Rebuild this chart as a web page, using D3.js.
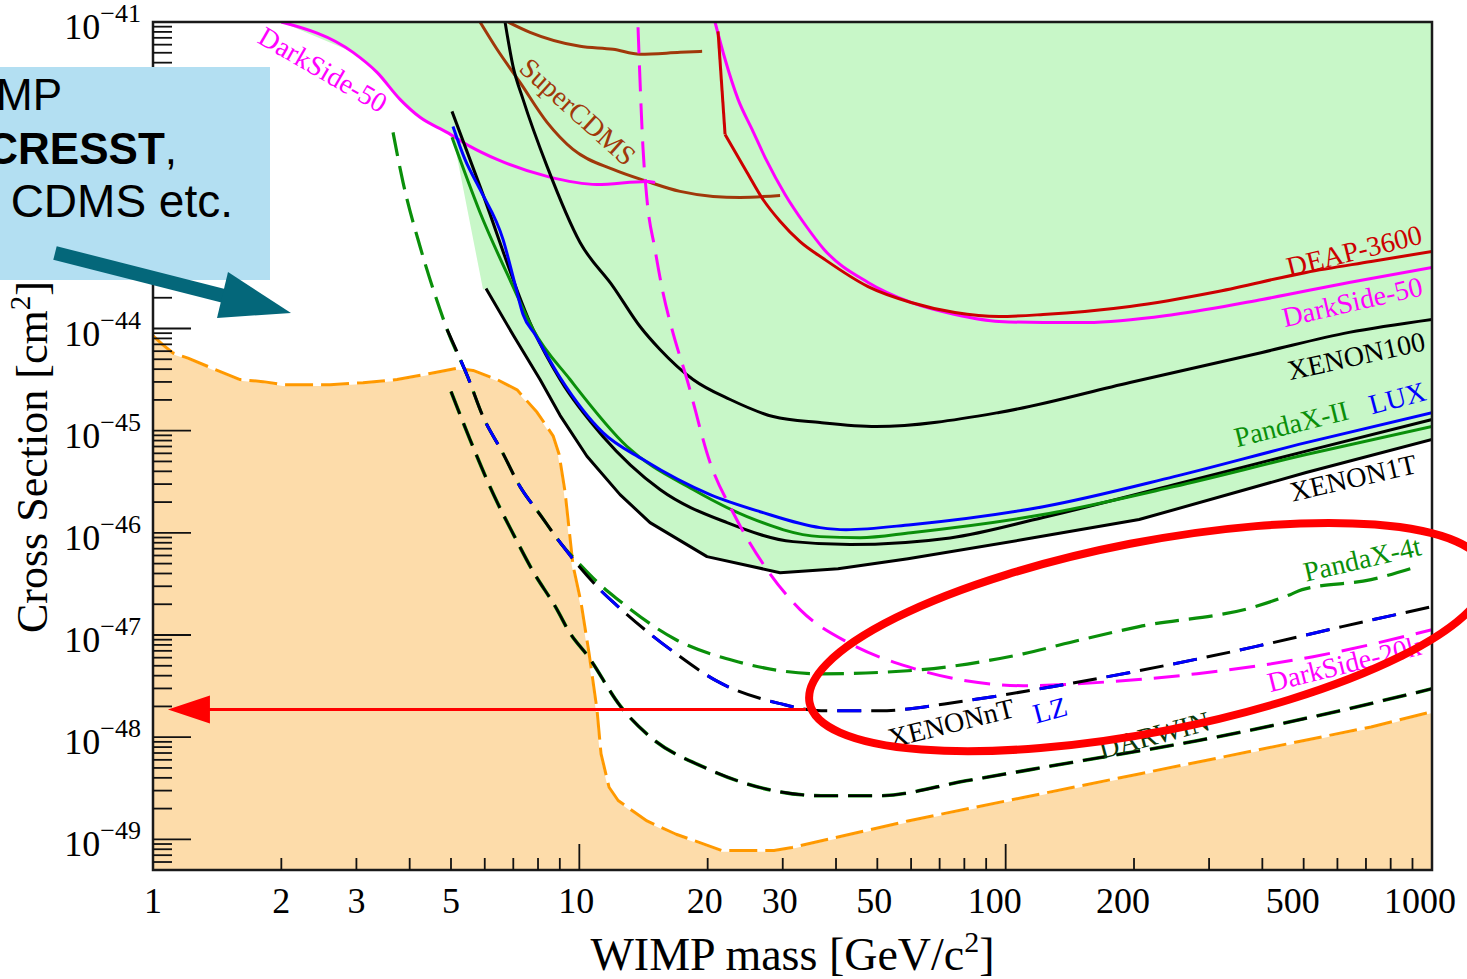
<!DOCTYPE html>
<html><head><meta charset="utf-8">
<script src="https://cdn.jsdelivr.net/npm/d3@7/dist/d3.min.js"></script>
<style>
body{margin:0;background:#fff}
svg{display:block}
text.serif{font-family:"Liberation Serif","Times New Roman",serif}
text.sans{font-family:"Liberation Sans",Arial,sans-serif}
</style>
</head><body>
<svg id="chart" width="1467" height="979"></svg>
<script>
// ---------------- DATA (mass in GeV/c^2, cross section given as log10(sigma / cm^2)) ----------------
const xTickLabels = [1, 2, 3, 5, 10, 20, 30, 50, 100, 200, 500, 1000];
const yDecades = [-41, -42, -43, -44, -45, -46, -47, -48, -49];

const neutrinoFloor = [[1.0,-44.07],[1.011,-44.09],[1.055,-44.16],[1.114,-44.24],[1.208,-44.29],[1.36,-44.38],[1.6,-44.5],[1.811,-44.52],[2.018,-44.55],[2.602,-44.55],[3.109,-44.53],[3.737,-44.5],[4.465,-44.44],[5.166,-44.39],[5.633,-44.41],[6.412,-44.5],[7.144,-44.6],[7.958,-44.82],[8.678,-45.05],[8.963,-45.23],[9.258,-45.6],[9.459,-45.96],[9.665,-46.32],[10.09,-46.68],[10.54,-47.18],[11.0,-47.73],[11.24,-48.16],[11.74,-48.49],[12.33,-48.62],[14.41,-48.82],[16.86,-48.95],[21.61,-49.11],[28.62,-49.11],[31.55,-49.08],[59.0,-48.82],[109.9,-48.59],[205.6,-48.36],[384.6,-48.13],[719.6,-47.9],[1000,-47.75]];

const darkSide50Low = [[2.0,-41.0],[2.946,-41.297],[3.354,-41.493],[3.797,-41.757],[4.23,-41.933],[4.894,-42.08],[5.541,-42.217],[6.411,-42.345],[8.401,-42.511],[11.0,-42.59],[14.41,-42.56],[15.05,-42.57]];
const darkSide50High = [[20.81,-41.0],[21.97,-41.365],[23.57,-41.757],[25.42,-42.051],[27.41,-42.345],[30.38,-42.688],[33.83,-42.982],[37.5,-43.226],[47.56,-43.549],[59.99,-43.745],[76.07,-43.863],[96.5,-43.931],[122.4,-43.941],[155.2,-43.941],[248.3,-43.863],[399.5,-43.716],[639.0,-43.549],[1000,-43.402]];
const deap3600Rise = [[21.15,-41.091],[21.97,-42.1]];
const deap3600 = [[21.97,-42.1],[24.74,-42.472],[26.97,-42.737],[29.57,-42.95],[32.94,-43.15],[37.5,-43.32],[47.56,-43.59],[59.99,-43.745],[76.07,-43.843],[96.5,-43.882],[122.4,-43.863],[195.7,-43.784],[314.9,-43.637],[506.7,-43.451],[719.7,-43.344],[1000,-43.246]];
const xenon100 = [[6.695,-41.0],[6.99,-41.434],[7.379,-41.757],[8.401,-42.413],[10.04,-43.158],[12.0,-43.589],[13.88,-43.98],[15.46,-44.205],[18.48,-44.499],[22.58,-44.695],[28.48,-44.862],[36.7,-44.921],[49.66,-44.96],[96.5,-44.822],[195.7,-44.528],[399.5,-44.234],[639.0,-44.038],[1000,-43.911]];
const superCDMSa = [[6.804,-41.0],[7.662,-41.101],[10.04,-41.238],[12.0,-41.267],[13.88,-41.316],[17.23,-41.297],[19.41,-41.287]];
const superCDMSb = [[5.849,-41.0],[6.411,-41.267],[7.259,-41.591],[8.401,-41.982],[9.665,-42.247],[12.0,-42.443],[14.41,-42.56],[17.23,-42.658],[20.59,-42.707],[23.82,-42.717],[29.57,-42.697]];
const lux = [[5.054,-42.022],[5.393,-42.345],[5.849,-42.639],[6.622,-43.128],[7.067,-43.569],[7.379,-43.863],[7.872,-44.059],[9.011,-44.48],[11.36,-45.019],[14.11,-45.283],[20.26,-45.626],[26.54,-45.793],[36.7,-45.949],[42.23,-45.969],[59.99,-45.92],[122.4,-45.744],[248.3,-45.45],[506.7,-45.117],[1000,-44.823]];
const pandaX2 = [[5.027,-42.129],[5.849,-42.864],[6.99,-43.589],[7.788,-44.009],[9.511,-44.499],[12.94,-45.155],[18.48,-45.576],[24.74,-45.841],[36.7,-46.037],[45.55,-46.047],[59.99,-45.998],[122.4,-45.821],[248.3,-45.547],[506.7,-45.234],[1000,-44.96]];
const xenon1T2017 = [[5.027,-41.875],[5.849,-42.609],[7.788,-44.009],[9.011,-44.499],[11.36,-45.057],[15.46,-45.576],[22.21,-45.9],[31.72,-46.086],[43.15,-46.115],[74.06,-46.05],[122.4,-45.85],[248.3,-45.53],[506.7,-45.2],[1000,-44.891]];
const xenon1T = [[6.041,-43.608],[7.029,-44.079],[8.088,-44.499],[9.011,-44.85],[10.42,-45.25],[12.46,-45.626],[14.65,-45.9],[19.93,-46.233],[29.57,-46.39],[40.45,-46.351],[59.0,-46.253],[109.9,-46.066],[205.6,-45.87],[506.7,-45.41],[1000,-45.087]];
const excludedEdge = [[2.0,-41.0],[2.946,-41.297],[3.354,-41.493],[3.797,-41.757],[4.23,-41.933],[4.894,-42.08],[5.054,-42.118],[5.944,-43.618],[6.041,-43.608],[7.029,-44.079],[8.088,-44.499],[9.011,-44.85],[10.42,-45.25],[12.46,-45.626],[14.65,-45.9],[19.93,-46.233],[29.57,-46.39],[40.45,-46.351],[59.0,-46.253],[109.9,-46.066],[205.6,-45.87],[506.7,-45.41],[1000,-45.087],[1000,-41.0]];
const darkSide20k = [[13.73,-41.052],[14.11,-42.247],[14.41,-42.737],[15.05,-43.226],[15.71,-43.647],[16.5,-44.009],[17.89,-44.499],[20.26,-45.312],[22.94,-45.801],[27.56,-46.36],[32.94,-46.751],[43.15,-47.084],[59.0,-47.31],[80.7,-47.447],[109.9,-47.496],[175.8,-47.457],[281.2,-47.379],[526.1,-47.212],[1000,-46.948]];
const pandaX4t = [[3.656,-42.08],[3.859,-42.57],[4.23,-43.197],[4.712,-43.814],[4.894,-44.009],[5.482,-44.48],[5.944,-44.862],[6.587,-45.205],[7.259,-45.547],[8.088,-45.821],[9.059,-46.106],[10.04,-46.311],[11.18,-46.507],[12.33,-46.654],[16.86,-47.046],[23.07,-47.252],[36.9,-47.38],[59.0,-47.35],[109.9,-47.184],[150.3,-47.046],[205.6,-46.918],[384.6,-46.722],[464.7,-46.605],[495.9,-46.556],[719.6,-46.458],[922.8,-46.331]];
const xenonNT = [[4.894,-44.009],[5.482,-44.48],[5.944,-44.862],[6.587,-45.205],[7.259,-45.547],[8.088,-45.821],[9.059,-46.106],[10.04,-46.34],[11.18,-46.556],[12.33,-46.722],[16.86,-47.183],[20.93,-47.447],[29.57,-47.672],[36.9,-47.741],[50.47,-47.741],[80.7,-47.643],[128.5,-47.506],[205.6,-47.349],[384.6,-47.114],[615.4,-46.918],[1000,-46.722]];
const lzProjection = [[4.894,-44.009],[5.482,-44.48],[5.944,-44.862],[6.587,-45.205],[7.259,-45.547],[8.088,-45.821],[9.059,-46.106],[10.04,-46.34],[11.18,-46.556],[12.33,-46.722],[16.86,-47.183],[20.93,-47.447],[29.57,-47.672],[36.9,-47.741],[50.47,-47.741],[80.7,-47.643],[128.5,-47.506],[205.6,-47.349],[384.6,-47.114],[615.4,-46.918],[1000,-46.722]];
const darwin = [[5.001,-44.617],[5.541,-45.087],[6.307,-45.635],[7.029,-46.027],[7.746,-46.36],[8.867,-46.752],[9.459,-46.967],[10.54,-47.222],[12.46,-47.692],[14.65,-47.996],[19.72,-48.299],[28.62,-48.524],[36.9,-48.573],[50.47,-48.573],[80.7,-48.427],[150.3,-48.231],[281.2,-48.035],[526.1,-47.8],[1000,-47.526]];

// curve labels: [text, mass, log10 sigma, angle, colour]
const curveLabels = [
  ["DarkSide-50", 2.506, -41.463, 30, "#ff00ff"],
  ["SuperCDMS", 9.93, -41.875, 42, "#a0380a"],
  ["DEAP-3600", 656.7, -43.236, -14, "#cc0000"],
  ["DarkSide-50", 649.6, -43.736, -13, "#ff00ff"],
  ["XENON100", 663.7, -44.265, -12.5, "#000000"],
  ["PandaX-II", 467.2, -44.931, -14, "#0a8f0a"],
  ["LUX", 828.3, -44.677, -15, "#0000ff"],
  ["XENON1T", 653.1, -45.459, -13, "#000000"],
  ["PandaX-4t", 685.5, -46.253, -13, "#0a8f0a"],
  ["DarkSide-20k", 622.1, -47.281, -14, "#ff00ff"],
  ["XENONnT", 74.45, -47.859, -14, "#000000"],
  ["LZ", 127.1, -47.732, -15, "#0000ff"],
  ["DARWIN", 222.9, -47.977, -15, "#0a3a0a"]
];
// annotation anchors (mass, log10 sigma)
const ellipseCentre = [216, -47.02];
const arrowFrom = [34, -47.73];
const arrowTo = [1.084, -47.73];

// ---------------- DRAWING ----------------
const svg = d3.select("#chart");
const L = 153, R = 1432, T = 22, B = 870;
const x = d3.scaleLog().domain([1, 1000]).range([L, R]);
const y = d3.scaleLog().domain([Math.pow(10, -49.3), 1e-41]).range([B, T]);
const P = e => Math.pow(10, e);
const line = d3.line().x(d => x(d[0])).y(d => y(P(d[1])));
const smooth = d3.line().x(d => x(d[0])).y(d => y(P(d[1]))).curve(d3.curveMonotoneX);

svg.append("defs").append("clipPath").attr("id", "plotclip")
  .append("rect").attr("x", L).attr("y", T).attr("width", R - L).attr("height", B - T);

const plot = svg.append("g").attr("clip-path", "url(#plotclip)");

// excluded (green) region
plot.append("path").attr("d", line(excludedEdge) + "Z").attr("fill", "#c8f7c8").attr("stroke", "none");

// neutrino floor region
const floorArea = d3.area().x(d => x(d[0])).y0(B + 2).y1(d => y(P(d[1])));
plot.append("path").attr("d", floorArea(neutrinoFloor)).attr("fill", "#fddcaa");

function draw(data, color, width, dash, gen, offset) {
  const p = plot.append("path").attr("d", (gen || smooth)(data)).attr("fill", "none")
    .attr("stroke", color).attr("stroke-width", width).attr("stroke-linejoin", "round");
  if (dash) p.attr("stroke-dasharray", dash);
  if (offset) p.attr("stroke-dashoffset", offset);
  return p;
}

// solid limits
draw(superCDMSa, "#a0380a", 3);
draw(superCDMSb, "#a0380a", 3);
draw(darkSide50Low, "#ff00ff", 3);
draw(xenon100, "#000", 3);
draw(xenon1T, "#000", 3, null, line);
draw(xenon1T2017, "#000", 3);
draw(pandaX2, "#0a8f0a", 3);
draw(lux, "#0000ff", 3);
draw(darkSide50High, "#ff00ff", 3);
draw(deap3600Rise, "#cc0000", 3, null, line);
draw(deap3600, "#cc0000", 3);

// projections (dashed)
draw(neutrinoFloor, "#ffffff", 2.5, null, line);
draw(neutrinoFloor, "#ff9900", 3, "28,8", line);
draw(darkSide20k, "#ff00ff", 3, "26,12");
draw(pandaX4t, "#0a8f0a", 3.2, "24,10");
draw(xenonNT, "#000", 3, "24,10");
draw(lzProjection, "#0000ff", 3, "24,44", null, -34);
draw(darwin, "#0a8f0a", 3.6, "24,10");
draw(darwin, "#000", 2.6, "24,10");

// frame
svg.append("rect").attr("x", L).attr("y", T).attr("width", R - L).attr("height", B - T)
  .attr("fill", "none").attr("stroke", "#1a1a1a").attr("stroke-width", 2.5);

// x ticks
const axisG = svg.append("g").attr("stroke", "#111").attr("stroke-width", 1.8);
for (let dec = 1; dec < 1000; dec *= 10) {
  for (let k = 1; k <= 9; k++) {
    const v = dec * k;
    if (v <= 1 || v >= 1000) continue;
    const len = k === 1 ? 26 : 12;
    axisG.append("line").attr("x1", x(v)).attr("x2", x(v)).attr("y1", B).attr("y2", B - len);
  }
}
// y ticks
for (let e = -50; e <= -41; e++) {
  for (let k = 1; k <= 9; k++) {
    const v = k * Math.pow(10, e);
    const ly = Math.log10(v);
    if (ly < -49.3 || ly > -41.001) continue;
    const len = k === 1 ? 38 : 19;
    axisG.append("line").attr("x1", L).attr("x2", L + len).attr("y1", y(v)).attr("y2", y(v));
  }
}

// x tick labels
xTickLabels.forEach(v => {
  const n = String(v).length;
  const dx = n === 1 ? 0 : n === 2 ? -3 : n === 3 ? -11 : -12;
  svg.append("text").attr("class", "serif").attr("x", x(v) + dx).attr("y", 913).attr("text-anchor", "middle")
    .style("font-size", "36px").text(v);
});
// y tick labels
yDecades.forEach(e => {
  const t = svg.append("text").attr("class", "serif").attr("x", 141).attr("y", y(P(e)) + 17).attr("text-anchor", "end")
    .style("font-size", "36px");
  t.append("tspan").text("10");
  t.append("tspan").attr("dy", -17).style("font-size", "26px").text("\u2212" + Math.abs(e));
});

// axis titles
const xt = svg.append("text").attr("class", "serif").attr("x", (L + R) / 2).attr("y", 970).attr("text-anchor", "middle")
  .style("font-size", "46px");
xt.append("tspan").text("WIMP mass [GeV/c");
xt.append("tspan").attr("dy", -18).style("font-size", "30px").text("2");
xt.append("tspan").attr("dy", 18).text("]");

const yt = svg.append("text").attr("class", "serif").attr("transform", "translate(47,633) rotate(-90)").attr("text-anchor", "start")
  .style("font-size", "44px");
yt.append("tspan").text("Cross Section [cm");
yt.append("tspan").attr("dy", -17).style("font-size", "29px").text("2");
yt.append("tspan").attr("dy", 17).text("]");

// curve labels
curveLabels.forEach(([txt, m, e, ang, col]) => {
  svg.append("text").attr("class", "serif")
    .attr("transform", `translate(${x(m)},${y(P(e))}) rotate(${ang})`)
    .attr("text-anchor", "middle").attr("dy", "0.35em")
    .style("font-size", "28px").attr("fill", col).text(txt);
});

// red arrow
const ay = y(P(arrowFrom[1]));
const tipX = x(arrowTo[0]);
svg.append("line").attr("x1", x(arrowFrom[0])).attr("x2", tipX + 40).attr("y1", ay).attr("y2", ay)
  .attr("stroke", "#ff0000").attr("stroke-width", 3);
svg.append("polygon").attr("points", `${tipX},${ay} ${tipX + 42},${ay - 14} ${tipX + 42},${ay + 14}`)
  .attr("fill", "#ff0000");

// red ellipse
svg.append("ellipse").attr("cx", 0).attr("cy", 0).attr("rx", 345).attr("ry", 95)
  .attr("transform", `translate(${x(ellipseCentre[0])},${y(P(ellipseCentre[1]))}) rotate(-11)`)
  .attr("fill", "none").attr("stroke", "#ff0000").attr("stroke-width", 8);

// blue annotation box
svg.append("rect").attr("x", 0).attr("y", 67).attr("width", 270).attr("height", 213).attr("fill", "#b3dff2");
const boxText = svg.append("g").attr("fill", "#000");
boxText.append("text").attr("class", "sans").style("font-size", "44px").attr("x", 62).attr("y", 110).attr("text-anchor", "end").text("WIMP");
const l2 = boxText.append("text").attr("class", "sans").style("font-size", "44px").attr("x", 177).attr("y", 164).attr("text-anchor", "end");
l2.append("tspan").style("font-weight", "bold").text("CRESST");
l2.append("tspan").text(",");
boxText.append("text").attr("class", "sans").style("font-size", "46px").attr("x", 233).attr("y", 217).attr("text-anchor", "end").text("CDMS etc.");

// teal arrow
svg.append("line").attr("x1", 55).attr("y1", 253).attr("x2", 232).attr("y2", 298)
  .attr("stroke", "#04677a").attr("stroke-width", 14);
svg.append("polygon").attr("points", "228,272 291,313 217,318").attr("fill", "#04677a");
</script>
</body></html>
